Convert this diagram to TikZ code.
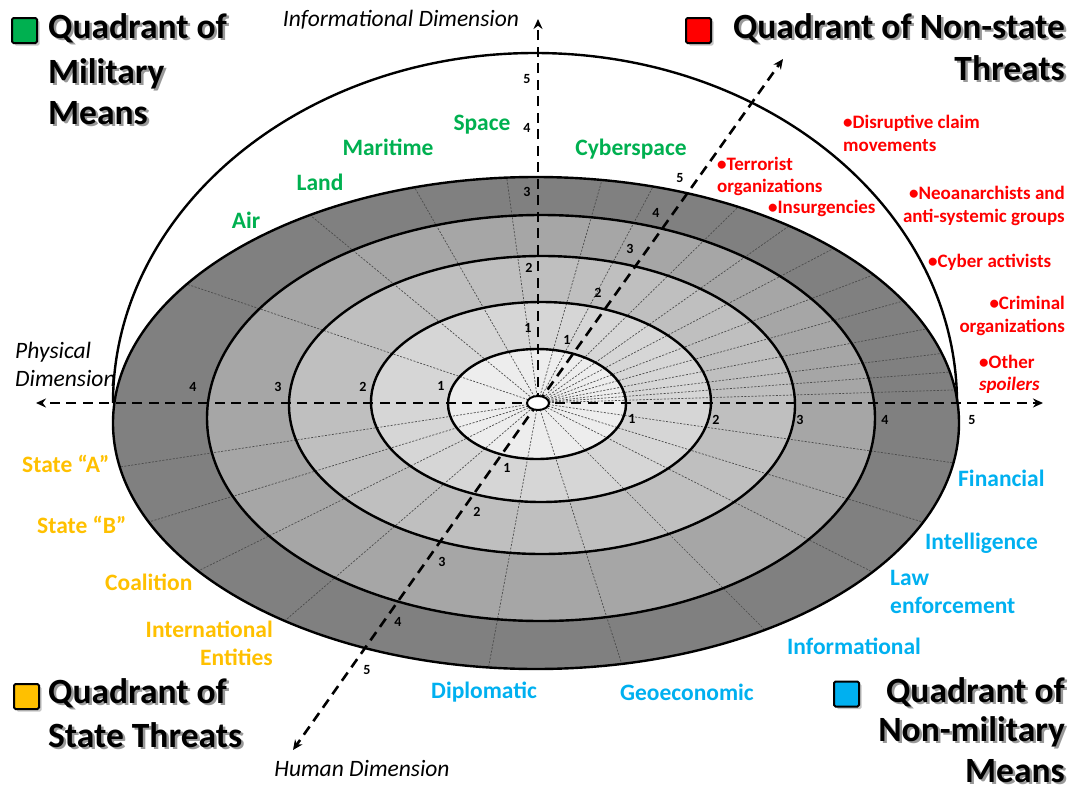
\documentclass[tikz,border=0pt]{standalone}
\usepackage{fontspec}
\setmainfont{Carlito}
\usetikzlibrary{arrows.meta,shadows}

\definecolor{milgreen}{HTML}{00B050}
\definecolor{nsred}{HTML}{FF0000}
\definecolor{stgold}{HTML}{FFC000}
\definecolor{nmblue}{HTML}{00B0F0}
\definecolor{ringA}{gray}{0.93}
\definecolor{ringB}{gray}{0.84}
\definecolor{ringC}{gray}{0.75}
\definecolor{ringD}{gray}{0.65}
\definecolor{ringE}{gray}{0.50}

% title with a grey shadow behind it
\newcommand\quadtitle[4]{%
  \node[titletext, text=black!40, anchor=#2, xshift=2.5pt, yshift=-2.5pt] at #3 {#4};
  \node[titletext, anchor=#2] (#1) at #3 {#4};}

\begin{document}
\begin{tikzpicture}[x=1pt, y=-1pt,
  ringline/.style={line width=2.4pt, black},
  radial/.style={line width=0.7pt, black!70, dash pattern=on 2pt off 1.5pt},
  axisline/.style={line width=2.6pt, black, dash pattern=on 10pt off 6.5pt,
    -{Stealth[length=10pt, width=9pt]}},
  numlbl/.style={inner sep=0pt, font=\bfseries\fontsize{14}{16}\selectfont},
  dimlbl/.style={inner sep=0pt, font=\itshape\fontsize{23.5}{27}\selectfont},
  catlbl/.style={inner sep=0pt, font=\bfseries\fontsize{23.5}{27}\selectfont},
  military/.style={catlbl, text=milgreen},
  nonmilitary/.style={catlbl, text=nmblue},
  statethreat/.style={catlbl, text=stgold},
  nonstate/.style={inner sep=0pt, text=nsred, font=\bfseries\fontsize{19}{22}\selectfont},
  titletext/.style={inner sep=0pt, font=\bfseries\fontsize{35.5}{42}\selectfont},
  keybox/.style={draw=black, line width=2pt, minimum size=25pt, inner sep=0pt,
    rounded corners=1.5pt,
    drop shadow={shadow xshift=2.5pt, shadow yshift=-2.5pt, opacity=0.45}},
]
\useasboundingbox (0,0) rectangle (1071,795);

\coordinate (O) at (538,403);

% shaded rings, outermost first
\fill[ringE] (536,423) ellipse [x radius=423pt, y radius=246pt];
\fill[ringD] (541,418) ellipse [x radius=334pt, y radius=203pt];
\fill[ringC] (542,405) ellipse [x radius=253pt, y radius=149pt];
\fill[ringB] (541,402) ellipse [x radius=170pt, y radius=100pt];
\fill[ringA] (537,404) ellipse [x radius=89pt, y radius=55pt];

% sector lines from the centre out to the rim
\begin{scope}
  \clip (536,423) ellipse [x radius=423pt, y radius=246pt];
  \foreach \a in {1.8, 4.3, 7, 10.8, 15.6, 20.9, 27.6, 35.2, 44.4, 62, 74,
                  97.9, 119.8, 140.5, 161.3,
                  188.7, 197, 206.3, 220.7, 259.4,
                  287.8, 315, 333.2, 342.8, 351.8}
    \draw[radial] (O) -- ++(\a:700pt);
\end{scope}

% ring boundaries
\draw[ringline] (536,423) ellipse [x radius=423pt, y radius=246pt];
\draw[ringline] (541,418) ellipse [x radius=334pt, y radius=203pt];
\draw[ringline] (542,405) ellipse [x radius=253pt, y radius=149pt];
\draw[ringline] (541,402) ellipse [x radius=170pt, y radius=100pt];
\draw[ringline] (537,404) ellipse [x radius=89pt, y radius=55pt];

% upper dome
\draw[ringline] (113,403) arc [start angle=180, end angle=0, x radius=422pt, y radius=350pt];

% the three dimensions
\coordinate (W) at (36,403);
\coordinate (E) at (1043,403);
\coordinate (N) at (538,19);
\coordinate (NE) at (783,59);
\coordinate (SW) at (293,750);
\draw[axisline] (O) -- (W);
\draw[axisline] (O) -- (E);
\draw[axisline] (O) -- (N);
\draw[axisline] (O) -- (NE);
\draw[axisline] (O) -- (SW);

\draw[line width=2pt, fill=white] (O) ellipse [x radius=11pt, y radius=7pt];

% scale numbers
\node[numlbl] (n1) at (528,328) {1};
\node[numlbl] (n2) at (529,268) {2};
\node[numlbl] (n3) at (527,192) {3};
\node[numlbl] (n4) at (527,128) {4};
\node[numlbl] (n5) at (527,79) {5};

\node[numlbl] (w1) at (441,386) {1};
\node[numlbl] (w2) at (363,387) {2};
\node[numlbl] (w3) at (278,387) {3};
\node[numlbl] (w4) at (193,387) {4};

\node[numlbl] (e1) at (632,419) {1};
\node[numlbl] (e2) at (716,420) {2};
\node[numlbl] (e3) at (800,420) {3};
\node[numlbl] (e4) at (885,420) {4};
\node[numlbl] (e5) at (972,420) {5};

\node[numlbl] (ne1) at (567,340) {1};
\node[numlbl] (ne2) at (598,293) {2};
\node[numlbl] (ne3) at (630,249) {3};
\node[numlbl] (ne4) at (656,213) {4};
\node[numlbl] (ne5) at (680,178) {5};

\node[numlbl] (sw1) at (507,468) {1};
\node[numlbl] (sw2) at (477,512) {2};
\node[numlbl] (sw3) at (442,562) {3};
\node[numlbl] (sw4) at (398,622) {4};
\node[numlbl] (sw5) at (367,670) {5};

% dimension names
\node[dimlbl, anchor=base] (dinf) at (401,27) {Informational Dimension};
\node[dimlbl, anchor=base west] (dphy1) at (15,358) {Physical};
\node[dimlbl, anchor=base west] (dphy2) at (15,386) {Dimension};
\node[dimlbl, anchor=base] (dhum) at (362,776) {Human Dimension};

% military means
\node[military, anchor=base] (space) at (482,130) {Space};
\node[military, anchor=base] (maritime) at (388,155) {Maritime};
\node[military, anchor=base] (land) at (320,190) {Land};
\node[military, anchor=base] (air) at (246,228) {Air};
\node[military, anchor=base] (cyber) at (631,155) {Cyberspace};

% non-state threats
\node[nonstate, anchor=base west] (ns1a) at (843,128) {•Disruptive claim};
\node[nonstate, anchor=base west] (ns1b) at (843,151) {movements};
\node[nonstate, anchor=base west] (ns2a) at (717,170) {•Terrorist};
\node[nonstate, anchor=base west] (ns2b) at (717,192) {organizations};
\node[nonstate, anchor=base west] (ns3) at (768,213) {•Insurgencies};
\node[nonstate, anchor=base east] (ns4a) at (1065,199) {•Neoanarchists and};
\node[nonstate, anchor=base east] (ns4b) at (1065,222) {anti-systemic groups};
\node[nonstate, anchor=base west] (ns5) at (928,267) {•Cyber activists};
\node[nonstate, anchor=base east] (ns6a) at (1065,309) {•Criminal};
\node[nonstate, anchor=base east] (ns6b) at (1065,332) {organizations};
\node[nonstate, anchor=base west] (ns7a) at (979,368) {•Other};
\node[nonstate, anchor=base west, font=\bfseries\itshape\fontsize{19}{22}\selectfont] (ns7b) at (979,390) {spoilers};

% state threats
\node[statethreat, anchor=base west] (stA) at (22,472) {State “A”};
\node[statethreat, anchor=base west] (stB) at (37,533) {State “B”};
\node[statethreat, anchor=base west] (coal) at (105,590) {Coalition};
\node[statethreat, anchor=base east] (intl1) at (273,637) {International};
\node[statethreat, anchor=base east] (intl2) at (273,665) {Entities};

% non-military means
\node[nonmilitary, anchor=base west] (fin) at (958,486) {Financial};
\node[nonmilitary, anchor=base west] (intel) at (925,549) {Intelligence};
\node[nonmilitary, anchor=base west] (law1) at (890,585) {Law};
\node[nonmilitary, anchor=base west] (law2) at (890,613) {enforcement};
\node[nonmilitary, anchor=base west] (info) at (787,654) {Informational};
\node[nonmilitary, anchor=base west] (geo) at (620,700) {Geoeconomic};
\node[nonmilitary, anchor=base west] (dip) at (431,698) {Diplomatic};

% quadrant keys
\node[keybox, fill=milgreen] (kmil) at (24.5,30.5) {};
\quadtitle{tmil1}{base west}{(48,38)}{Quadrant of}
\quadtitle{tmil2}{base west}{(48,83)}{Military}
\quadtitle{tmil3}{base west}{(48,124)}{Means}

\node[keybox, fill=nsred] (kns) at (698.5,30.5) {};
\quadtitle{tns1}{base east}{(1065,38)}{Quadrant of Non-state}
\quadtitle{tns2}{base east}{(1065,80)}{Threats}

\node[keybox, fill=stgold] (kst) at (26.5,696.5) {};
\quadtitle{tst1}{base west}{(48,703)}{Quadrant of}
\quadtitle{tst2}{base west}{(48,747)}{State Threats}

\node[keybox, fill=nmblue] (knm) at (846.5,694) {};
\quadtitle{tnm1}{base east}{(1065,702)}{Quadrant of}
\quadtitle{tnm2}{base east}{(1065,741)}{Non-military}
\quadtitle{tnm3}{base east}{(1065,782)}{Means}
\end{tikzpicture}
\end{document}
